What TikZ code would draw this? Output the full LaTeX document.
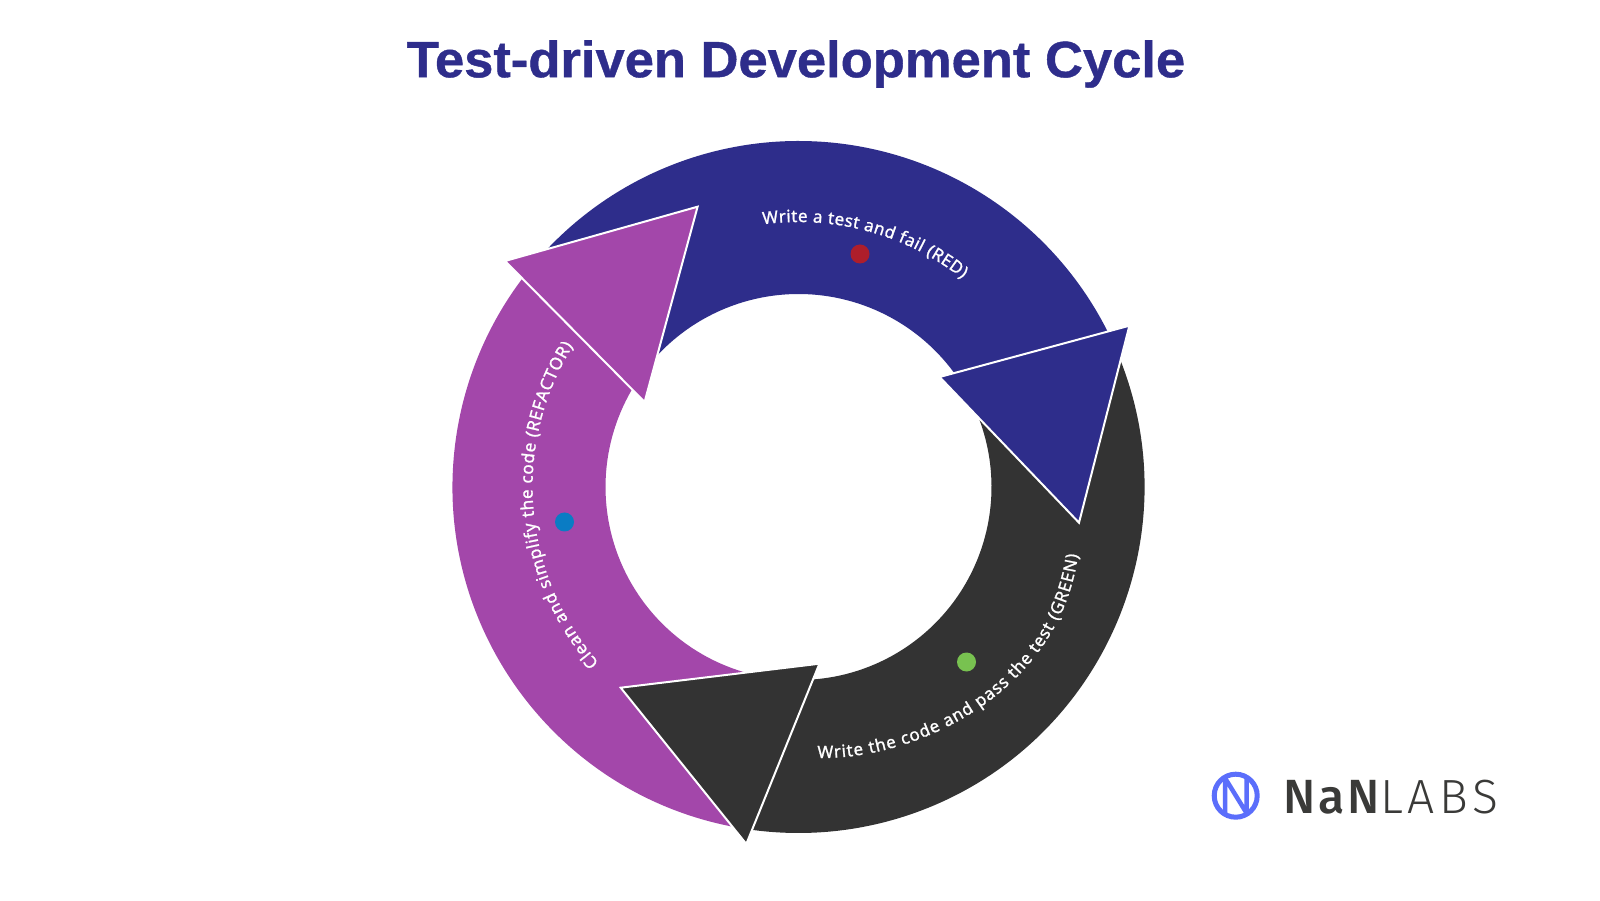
\documentclass[tikz,border=0pt]{standalone}
\usepackage{fontspec}
\usepackage{tikz}
\usetikzlibrary{decorations.text}
\setmainfont{Noto Sans}
\newfontfamily\titlefont[BoldFeatures={FakeStretch=1.03,FakeBold=0.8}]{Liberation Sans}
\newfontfamily\labelfont[UprightFeatures={FakeBold=1.2}]{Noto Sans}
\newfontfamily\logobold[LetterSpace=6]{Fira Sans Medium}
\newfontfamily\logolight[LetterSpace=10]{Fira Sans Light}
\newcommand{\lblstyle}{\fontsize{17pt}{20pt}\labelfont\selectfont\color{white}}
\definecolor{tddblue}{HTML}{2E2D8B}
\definecolor{tddpurple}{HTML}{A347AA}
\definecolor{tdddark}{HTML}{333333}
\definecolor{dotred}{HTML}{AE1E2B}
\definecolor{dotblue}{HTML}{0A7CC4}
\definecolor{dotgreen}{HTML}{78C250}
\definecolor{logoblue}{HTML}{5B6EFB}
\definecolor{logotext}{HTML}{3A3A38}
\tikzset{
  headshape/.style={draw=white,line width=2pt,line join=miter},
  flowdot/.style={circle,minimum size=19pt,inner sep=0pt},
  curvelabel/.style={decorate,decoration={text along path,text align=fit to path,
     text={|\lblstyle|#1}}},
  logoline/.style={draw=logoblue,line width=5pt}
}
\begin{document}
\begin{tikzpicture}[x=1pt,y=1pt]
\useasboundingbox (0,0) rectangle (1600,900);
\fill[white] (0,0) rectangle (1600,900);
\coordinate (c) at (798.5,413);
% bands
\fill[tddpurple] ([shift={(c)}]260:346) arc[start angle=260,end angle=142.5,radius=346pt]
   -- ([shift={(c)}]149.6:193) arc[start angle=149.6,end angle=258,radius=193pt] -- cycle;
\fill[tddblue] ([shift={(c)}]137:346) arc[start angle=137,end angle=26,radius=346pt]
   -- ([shift={(c)}]35.5:193) arc[start angle=35.5,end angle=140,radius=193pt] -- cycle;
\fill[tdddark] ([shift={(c)}]22:346) arc[start angle=22,end angle=-98,radius=346pt]
   -- ([shift={(c)}]-86:193) arc[start angle=-86,end angle=24,radius=193pt] -- cycle;
% arrow heads
\filldraw[headshape,fill=tddpurple] (505,639) -- (697.6,693.3) -- (644.6,498) -- cycle;
\filldraw[headshape,fill=tddblue] (939.6,523) -- (1129.4,574.3) -- (1079,377.3) -- cycle;
\filldraw[headshape,fill=tdddark] (819.4,236.3) -- (620.7,212.3) -- (746.3,56) -- cycle;
% dots
\node[flowdot,fill=dotred] (reddot) at (860,646) {};
\node[flowdot,fill=dotblue] (bluedot) at (564.5,378) {};
\node[flowdot,fill=dotgreen] (greendot) at (966.5,238) {};
% curved labels
\path[curvelabel={Write a test and fail (RED)}] ([shift={(c)}]97.7:265) arc[start angle=97.7,end angle=51.8,radius=265pt];
\path[curvelabel={Write the code and pass the test (GREEN)}] (817.6,142) .. controls (920,140) and (1060,210) .. (1078,345);
\path[curvelabel={Clean and simplify the code (REFACTOR)}] ([shift={(c)}]221.4:266) arc[start angle=221.4,end angle=148,radius=266pt];
% title
\node[text=tddblue,font=\titlefont\bfseries\fontsize{51pt}{56pt}\selectfont,inner sep=0pt] (title) at (796,836) {Test-driven Development Cycle};
% logo
\draw[logoline] (1235.7,104.3) circle[radius=21.5pt];
\begin{scope}
\clip (1235.7,104.3) circle[radius=22pt];
\draw[logoline,line width=4.5pt,line join=miter] (1225,80) -- (1225,122) -- (1246.5,87) -- (1246.5,128);
\end{scope}
\node[anchor=base west,inner sep=0pt,text=logotext,font=\logobold\fontsize{48pt}{50pt}\selectfont] (nan) at (1283,87) {NaN};
\node[anchor=base west,inner sep=0pt,text=logotext,font=\logolight\fontsize{48pt}{50pt}\selectfont] (labs) at (nan.base east) {LABS};
\end{tikzpicture}
\end{document}
